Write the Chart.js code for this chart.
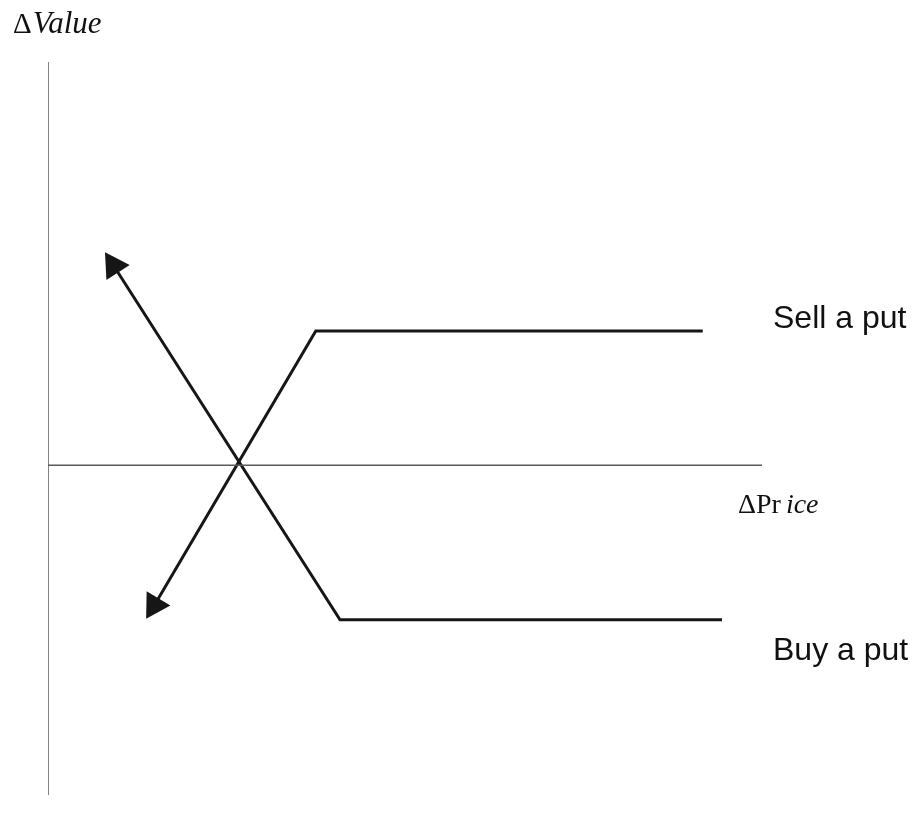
<!DOCTYPE html>
<html>
<head>
<meta charset="utf-8">
<script src="https://cdn.jsdelivr.net/npm/chart.js@4"></script>
<style>
  body { margin: 0; background: #fff; }
  #wrap { width: 916px; height: 826px; }
</style>
</head>
<body>
<div id="wrap"><canvas id="myChart" width="916" height="826"></canvas></div>
<script>
// axis ranges (arbitrary units)
const priceRange = [0, 100];
const valueRange = [-45, 55];

// payoff lines, first point is the arrow end
const sellPutX = [14.9, 37.5, 91.7];
const sellPutY = [-19.1, 18.3, 18.3];
const buyPutX = [9.2, 40.9, 94.4];
const buyPutY = [27.2, -21.1, -21.1];

const seriesLabels = ["Sell a put", "Buy a put"];

function pts(xs, ys) {
    return xs.map(function (x, i) { return { x: x, y: ys[i] }; });
}

const axisStyle = {
    borderColor: "#5a5a5a",
    borderWidth: 1.5,
    pointRadius: 0,
    showLine: true
};

// text labels drawn next to the lines
const labelPlugin = {
    id: "labels",
    afterDraw: function (chart) {
        const ctx = chart.ctx;
        const ys = chart.scales.y;
        const area = chart.chartArea;
        ctx.save();
        ctx.fillStyle = "#111";
        ctx.textBaseline = "alphabetic";
        ctx.textAlign = "left";

        ctx.font = "32px 'Liberation Sans', Arial, sans-serif";
        ctx.fillText(seriesLabels[0], area.right + 11, ys.getPixelForValue(sellPutY[2]) - 3);
        ctx.fillText(seriesLabels[1], area.right + 11, ys.getPixelForValue(buyPutY[2]) + 40);

        // Δ Price under the horizontal axis
        let x = area.right - 24;
        let y = ys.getPixelForValue(0) + 48;
        ctx.font = "28px 'Liberation Serif', 'Times New Roman', serif";
        ctx.fillText("\u0394Pr", x, y);
        x += ctx.measureText("\u0394Pr").width + 5;
        ctx.font = "italic 28px 'Liberation Serif', 'Times New Roman', serif";
        ctx.fillText("ice", x, y);

        // Δ Value above the vertical axis
        x = 13; y = 33;
        ctx.font = "29px 'Liberation Serif', 'Times New Roman', serif";
        ctx.fillText("\u0394", x, y);
        x += ctx.measureText("\u0394").width + 1;
        ctx.font = "italic 31px 'Liberation Serif', 'Times New Roman', serif";
        ctx.fillText("Value", x, y);
        ctx.restore();
    }
};

const data = {
    datasets: [
        Object.assign({ data: pts([priceRange[0], priceRange[0]], valueRange) }, axisStyle),
        Object.assign({ data: pts(priceRange, [0, 0]) }, axisStyle),
        {
            label: seriesLabels[0],
            data: pts(sellPutX, sellPutY),
            showLine: true,
            borderColor: "#161616",
            borderWidth: 3,
            pointStyle: "triangle",
            pointRadius: [16, 0, 0],
            pointRotation: [211, 0, 0],
            pointBackgroundColor: "#161616",
            pointBorderWidth: 0
        },
        {
            label: seriesLabels[1],
            data: pts(buyPutX, buyPutY),
            showLine: true,
            borderColor: "#161616",
            borderWidth: 3,
            pointStyle: "triangle",
            pointRadius: [16, 0, 0],
            pointRotation: [-33, 0, 0],
            pointBackgroundColor: "#161616",
            pointBorderWidth: 0
        }
    ]
};

const config = {
    type: "scatter",
    data: data,
    options: {
        responsive: false,
        animation: false,
        layout: {
            padding: { left: 48, right: 154, top: 62, bottom: 31 }
        },
        plugins: {
            legend: { display: false },
            tooltip: { enabled: false }
        },
        scales: {
            x: { type: "linear", min: priceRange[0], max: priceRange[1], display: false },
            y: { type: "linear", min: valueRange[0], max: valueRange[1], display: false }
        }
    },
    plugins: [labelPlugin]
};

var myChart = new Chart(document.getElementById("myChart"), config);
</script>
</body>
</html>
